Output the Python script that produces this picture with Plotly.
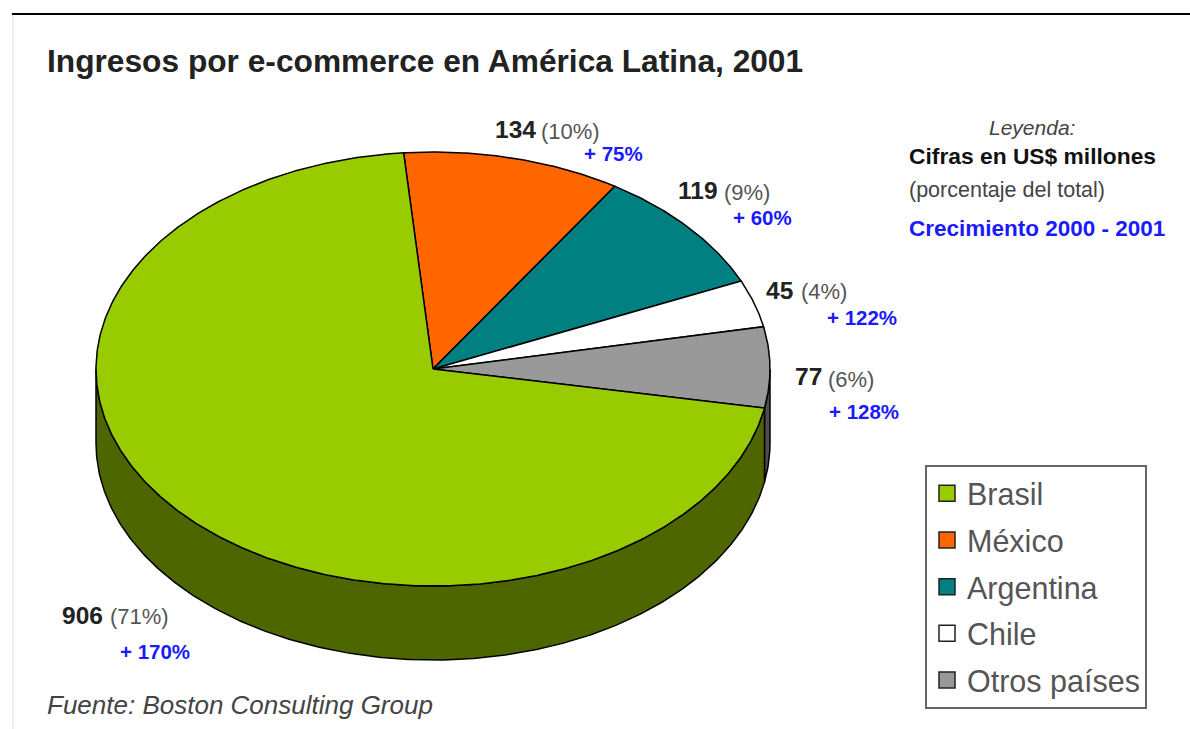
import numpy as np
import plotly.graph_objects as go

# ---- data ----
categories = ["Brasil", "México", "Argentina", "Chile", "Otros países"]
values = [906, 134, 119, 45, 77]
percent = ["71%", "10%", "9%", "4%", "6%"]
growth = ["+ 170%", "+ 75%", "+ 60%", "+ 122%", "+ 128%"]
colors = ["#99CC00", "#FF6600", "#008080", "#FFFFFF", "#999999"]
wall_colors = ["#4D6600", "#803300", "#004040", "#808080", "#4D4D4D"]

# ---- pie geometry (pixels) ----
CX, CY, RX, RY, DEPTH = 433, 369, 337, 217, 74
START_DEG = -5.0   # angle of the México slice start, clockwise from top

# ---- label anchor positions (pixels): value, percent, growth ----
value_pos = [(60, 615), (493, 129), (676, 190), (764, 290), (793, 376)]
pct_pos = [(108, 616), (539, 131), (722, 192), (799, 291), (826, 379)]
growth_pos = [(118, 651), (582, 153), (731, 217), (825, 317), (827, 411)]

SANS = "Liberation Sans"
BLUE = "#1A1AFF"


def pt(t_deg, dy=0.0):
    t = np.radians(t_deg)
    return CX + RX * np.sin(t), CY - RY * np.cos(t) + dy


def arc(a, b, dy=0.0):
    n = max(int(abs(b - a) * 2), 2)
    return pt(np.linspace(a, b, n), dy)


# slice angles: México first, clockwise, Brasil closes the circle
order = [1, 2, 3, 4, 0]
total = sum(values)
angles = {}
cur = START_DEG
for i in order:
    span = values[i] / total * 360
    angles[i] = (cur, cur + span)
    cur += span

fig = go.Figure()

# side walls (only the part facing the viewer, 90..270 degrees)
for i in order:
    a, b = angles[i]
    a2, b2 = max(a, 90), min(b, 270)
    if b2 <= a2:
        continue
    xt, yt = arc(a2, b2)
    xb, yb = arc(b2, a2, DEPTH)
    fig.add_trace(go.Scatter(
        x=np.r_[xt, xb, xt[0]], y=np.r_[yt, yb, yt[0]],
        mode="lines", fill="toself", fillcolor=wall_colors[i],
        line=dict(color="#000000", width=1.5), showlegend=False, hoverinfo="skip"))

# top faces
for i in order:
    a, b = angles[i]
    xa, ya = arc(a, b)
    fig.add_trace(go.Scatter(
        x=np.r_[CX, xa, CX], y=np.r_[CY, ya, CY],
        mode="lines", fill="toself", fillcolor=colors[i],
        line=dict(color="#000000", width=1.5), showlegend=False, hoverinfo="skip"))

# legend entries
for name, col in zip(categories, colors):
    fig.add_trace(go.Scatter(
        x=[None], y=[None], mode="markers", name=name, legendgroup=name,
        marker=dict(symbol="square", size=16, color=col, line=dict(color="#222222", width=1.5))))


def label(x, y, text, size, color="#222222", anchor="left", bold=False, italic=False):
    fig.add_annotation(
        x=x, y=y, xref="x", yref="y", text=text, showarrow=False,
        xanchor=anchor, yanchor="middle",
        font=dict(family=SANS, size=size, color=color,
                  weight="bold" if bold else "normal",
                  style="italic" if italic else "normal"))


for i in range(len(values)):
    label(*value_pos[i], str(values[i]), 24.5, color="#222222", bold=True)
    label(*pct_pos[i], f"({percent[i]})", 22, color="#555555")
    label(*growth_pos[i], growth[i], 20.5, color=BLUE, bold=True)

label(45, 61, "Ingresos por e-commerce en América Latina, 2001", 31.7, color="#222222", bold=True)
label(1032, 127, "Leyenda:", 21, color="#444444", anchor="center", italic=True)
label(907, 156, "Cifras en US$ millones", 22.8, color="#111111", bold=True)
label(907, 190, "(porcentaje del total)", 21.5, color="#444444")
label(907, 228, "Crecimiento 2000 - 2001", 22.5, color=BLUE, bold=True)
label(45, 705, "Fuente: Boston Consulting Group", 26, color="#444444", italic=True)

fig.update_layout(
    width=1190, height=729, margin=dict(l=0, r=0, t=0, b=0),
    paper_bgcolor="#FFFFFF", plot_bgcolor="#FFFFFF",
    xaxis=dict(range=[0, 1190], visible=False, fixedrange=True),
    yaxis=dict(range=[729, 0], visible=False, fixedrange=True),
    legend=dict(
        x=925 / 1190, y=1 - 465 / 729, xanchor="left", yanchor="top",
        bgcolor="#FFFFFF", bordercolor="#666666", borderwidth=2,
        font=dict(family=SANS, size=30.5, color="#555555"),
        entrywidth=184, entrywidthmode="pixels",
        tracegroupgap=4, itemclick=False, itemdoubleclick=False),
    shapes=[
        dict(type="line", xref="x", yref="y", x0=12, x1=1190, y0=14, y1=14,
             line=dict(color="#000000", width=2)),
        dict(type="line", xref="x", yref="y", x0=13, x1=13, y0=15, y1=729,
             line=dict(color="#EEEEEE", width=2)),
    ],
)

fig.write_html("out.html", config={"displayModeBar": False},
               post_script="document.body.style.margin='0';document.documentElement.style.overflow='hidden';")
